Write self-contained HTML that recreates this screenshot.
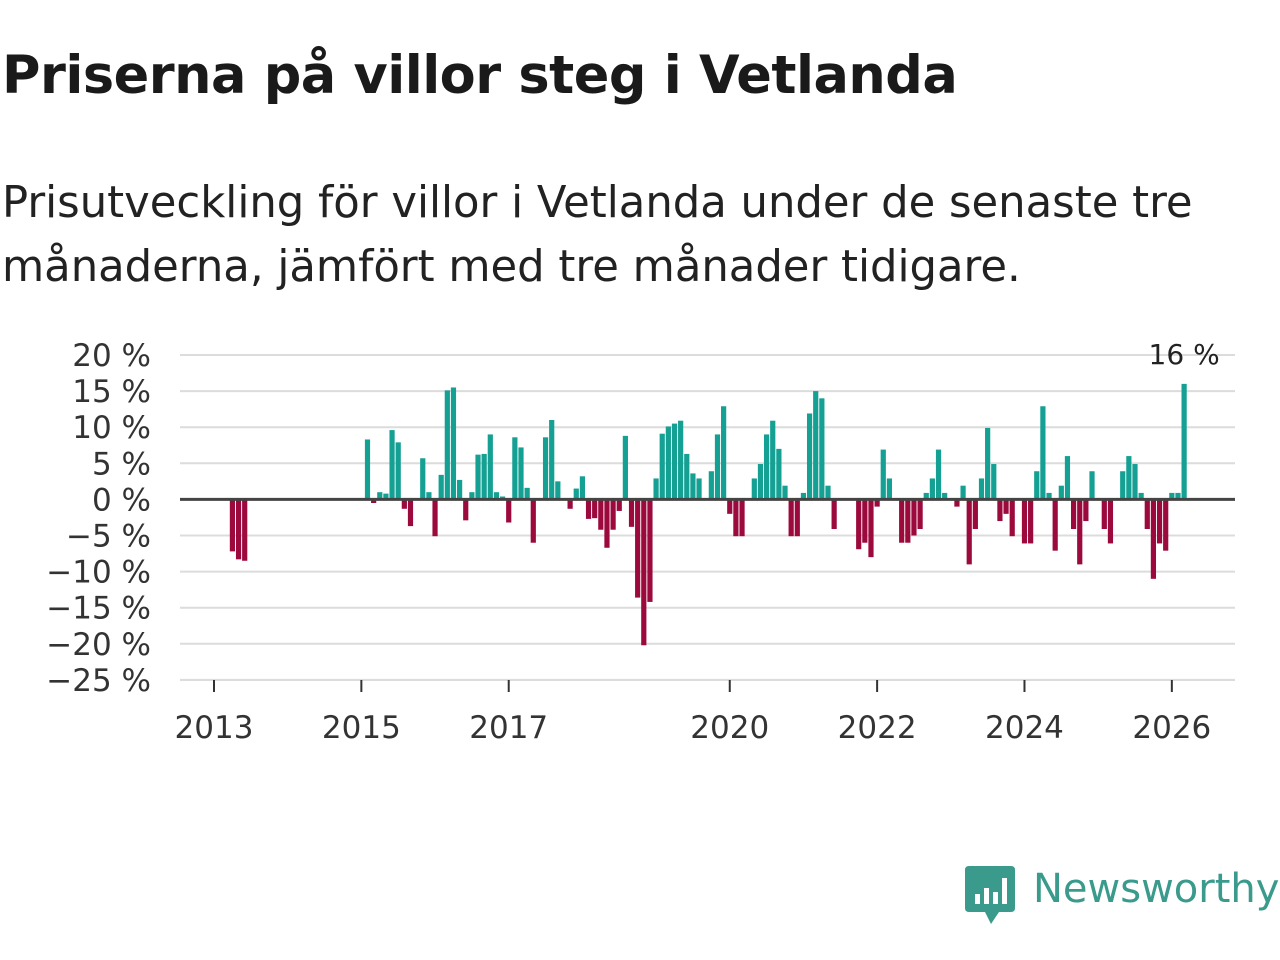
<!DOCTYPE html>
<html><head><meta charset="utf-8">
<style>
body{margin:0;background:#fff;font-family:"Liberation Sans","DejaVu Sans",sans-serif;}
#wrap{position:relative;width:1280px;height:960px;overflow:hidden;}
h1{position:absolute;left:2px;top:45px;margin:0;font-size:52.5px;font-weight:bold;color:#1a1a1a;font-family:"DejaVu Sans","Liberation Sans",sans-serif;letter-spacing:-0.5px;}
.sub{position:absolute;left:2px;top:171px;margin:0;font-size:43.3px;line-height:64px;color:#222;font-family:"DejaVu Sans","Liberation Sans",sans-serif;}
</style></head><body>
<div id="wrap">
<h1>Priserna på villor steg i Vetlanda</h1>
<p class="sub">Prisutveckling för villor i Vetlanda under de senaste tre<br>månaderna, jämfört med tre månader tidigare.</p>
<svg id="chart" width="1280" height="960" style="position:absolute;left:0;top:0"></svg>
<div style="position:absolute;left:965px;top:866px;width:320px;height:60px;">
<svg width="52" height="60" style="position:absolute;left:0;top:0"><path d="M0 4 Q0 0 4 0 H46 Q50 0 50 4 V42 Q50 46 46 46 H34 L26 58 L20 46 H4 Q0 46 0 42Z" fill="#3a9a8c"/><rect x="10" y="28" width="5" height="10" fill="#fff"/><rect x="19" y="22" width="5" height="16" fill="#fff"/><rect x="28" y="26" width="5" height="12" fill="#fff"/><rect x="37" y="12" width="5" height="26" fill="#fff"/></svg>
<span style="position:absolute;left:68px;top:0;font-size:40px;color:#3a9a8c;font-family:'DejaVu Sans','Liberation Sans',sans-serif;">Newsworthy</span>
</div>
</div>
<script>
const startYear = 2013;
const yTicks = [20,15,10,5,0,-5,-10,-15,-20,-25];
const xTickYears = [2013,2015,2017,2020,2022,2024,2026];
const firstIndex = 3;
const values = [-7.2,-8.3,-8.5,null,null,null,null,null,null,null,null,null,null,null,null,null,null,null,null,null,null,null,
8.3,-0.5,1,0.8,9.6,7.9,-1.3,-3.7,0,5.7,1,-5.1,3.4,15.1,15.5,2.7,-2.9,1,6.2,6.3,9.0,1,0.4,-3.2,8.6,7.2,1.6,-6.0,0,8.6,11,2.5,0,-1.3,1.5,3.2,-2.7,-2.6,-4.2,-6.7,-4.2,-1.6,8.8,-3.8,-13.6,-20.2,-14.2,2.9,9.1,10.1,10.5,10.9,6.3,3.6,2.9,0,3.9,9.0,12.9,-2.0,-5.1,-5.1,0,2.9,4.9,9.0,10.9,7.0,1.9,-5.1,-5.1,0.9,11.9,15.0,14.0,1.9,-4.1,0,0,0,-6.9,-6.0,-8.0,-1.0,
6.9,2.9,0,-6.0,-6.0,-5.0,-4.1,0.9,2.9,6.9,0.9,0,-1.0,1.9,-9.0,-4.1,2.9,9.9,4.9,-3.0,-2.0,-5.1,0,-6.1,-6.1,3.9,12.9,0.9,-7.1,1.9,6.0,-4.1,-9.0,-3.0,3.9,0,-4.1,-6.1,0,3.9,6.0,4.9,0.9,-4.1,-11,-6.1,-7.1,0.9,0.9,16];
const lastLabel = "16 %";
const NS="http://www.w3.org/2000/svg";
const svg=document.getElementById('chart');
const x0=180,x1=1235;
function yScale(v){return 499.4 - v*7.22;}
function xScale(monthIdx){return 214 + monthIdx*6.14;}
function mk(tag,attrs){const e=document.createElementNS(NS,tag);for(const k in attrs)e.setAttribute(k,attrs[k]);svg.appendChild(e);return e;}
yTicks.forEach(t=>{
  const g=mk('line',{x1:x0,x2:x1,y1:yScale(t),y2:yScale(t),stroke:'#dcdcdc','stroke-width':2});
  
  
  const tx=mk('text',{x:151,y:yScale(t)+11,'text-anchor':'end','font-size':31,fill:'#333','font-family':'DejaVu Sans, Liberation Sans, sans-serif'});
  tx.textContent=(t<0?'\u2212'+(-t):t)+' %';
  
  
});
const ax=mk('line',{x1:x0,x2:x1,y1:680,y2:680,stroke:'#dcdcdc','stroke-width':2});


xTickYears.forEach(yr=>{
  const x=xScale((yr-startYear)*12);
  const tk=mk('line',{x1:x,x2:x,y1:680,y2:692,stroke:'#333','stroke-width':2});
  
  
  const tx=mk('text',{x:x,y:738,'text-anchor':'middle','font-size':31,fill:'#333','font-family':'DejaVu Sans, Liberation Sans, sans-serif'});
  tx.textContent=yr;
  
  
});
let lastX=0,lastY=0;
values.forEach((v,i)=>{
  if(v===null)return;
  const m=firstIndex+i;
  const cx=xScale(m);
  const y=Math.min(yScale(v),yScale(0)),h=Math.abs(yScale(v)-yScale(0));
  const r=mk('rect',{x:cx-2.6,y:y,width:5.2,height:h,fill:v>=0?'#14a093':'#9c0a3d'});
  
  
  lastX=cx;lastY=yScale(v);
});
const zl=mk('line',{x1:x0,x2:x1,y1:yScale(0),y2:yScale(0),stroke:'#444','stroke-width':3});


const lb=mk('text',{x:lastX,y:lastY-20,'text-anchor':'middle','font-size':28,fill:'#222','font-family':'DejaVu Sans, Liberation Sans, sans-serif'});
lb.textContent=lastLabel;


</script>
</body></html>
